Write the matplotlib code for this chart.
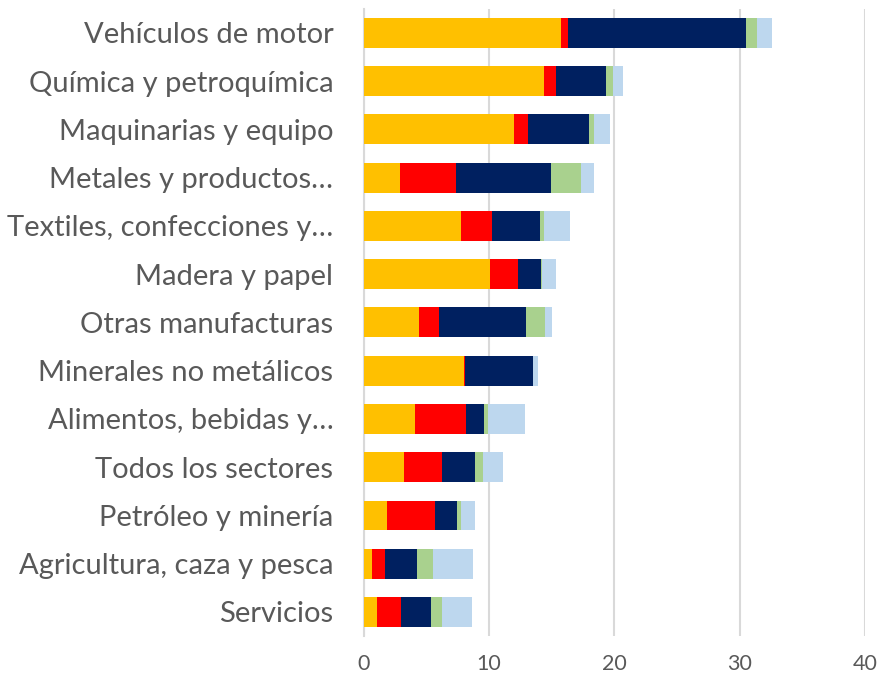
import matplotlib
matplotlib.use("Agg")
import matplotlib.pyplot as plt
import numpy as np

# categories, top to bottom
sectores = [
    "Vehículos de motor",
    "Química y petroquímica",
    "Maquinarias y equipo",
    "Metales y productos…",
    "Textiles, confecciones y…",
    "Madera y papel",
    "Otras manufacturas",
    "Minerales no metálicos",
    "Alimentos, bebidas y…",
    "Todos los sectores",
    "Petróleo y minería",
    "Agricultura, caza y pesca",
    "Servicios",
]

# stacked segments
serie_1 = [15.77, 14.36, 12.02, 2.85, 7.77, 10.05, 4.41, 7.98, 4.07, 3.24, 1.86, 0.66, 1.01]
serie_2 = [0.56, 0.99, 1.07, 4.49, 2.44, 2.26, 1.57, 0.11, 4.09, 3.01, 3.80, 1.04, 1.97]
serie_3 = [14.20, 4.01, 4.91, 7.63, 3.86, 1.79, 6.97, 5.37, 1.41, 2.58, 1.79, 2.56, 2.34]
serie_4 = [0.88, 0.56, 0.40, 2.40, 0.34, 0.10, 1.54, 0.02, 0.30, 0.64, 0.34, 1.25, 0.88]
serie_5 = [1.14, 0.74, 1.23, 1.03, 2.03, 1.17, 0.54, 0.40, 3.03, 1.67, 1.09, 3.19, 2.39]

x_ticks = [0, 10, 20, 30, 40]

series = [serie_1, serie_2, serie_3, serie_4, serie_5]
colores = ["#FFC000", "#FF0000", "#002060", "#A9D18E", "#BDD7EE"]

plt.rcParams["font.family"] = ["Lato", "DejaVu Sans"]

fig = plt.figure(figsize=(8.79, 6.76), dpi=100)
ax = fig.add_axes([0.414, 0.059, 0.57, 0.928])

y = np.arange(len(sectores))
izq = np.zeros(len(sectores))
for vals, col in zip(series, colores):
    ax.barh(y, vals, left=izq, height=0.62, color=col, zorder=3)
    izq += np.array(vals)

ax.set_ylim(len(sectores) - 0.5, -0.5)
ax.set_xlim(0, 40)
ax.set_xticks(x_ticks)
ax.set_yticks(y)
ax.set_yticklabels(sectores)

ax.grid(axis="x", color="#D9D9D9", linewidth=1.5, zorder=0)
for s in ["top", "right", "bottom"]:
    ax.spines[s].set_visible(False)
ax.spines["left"].set_color("#D9D9D9")
ax.spines["left"].set_linewidth(1.5)

ax.tick_params(axis="y", length=0, pad=22, labelsize=21, labelcolor="#595959")
ax.tick_params(axis="x", length=0, pad=13, labelsize=15.5, labelcolor="#595959")

fig.savefig("out.png", dpi=100)
